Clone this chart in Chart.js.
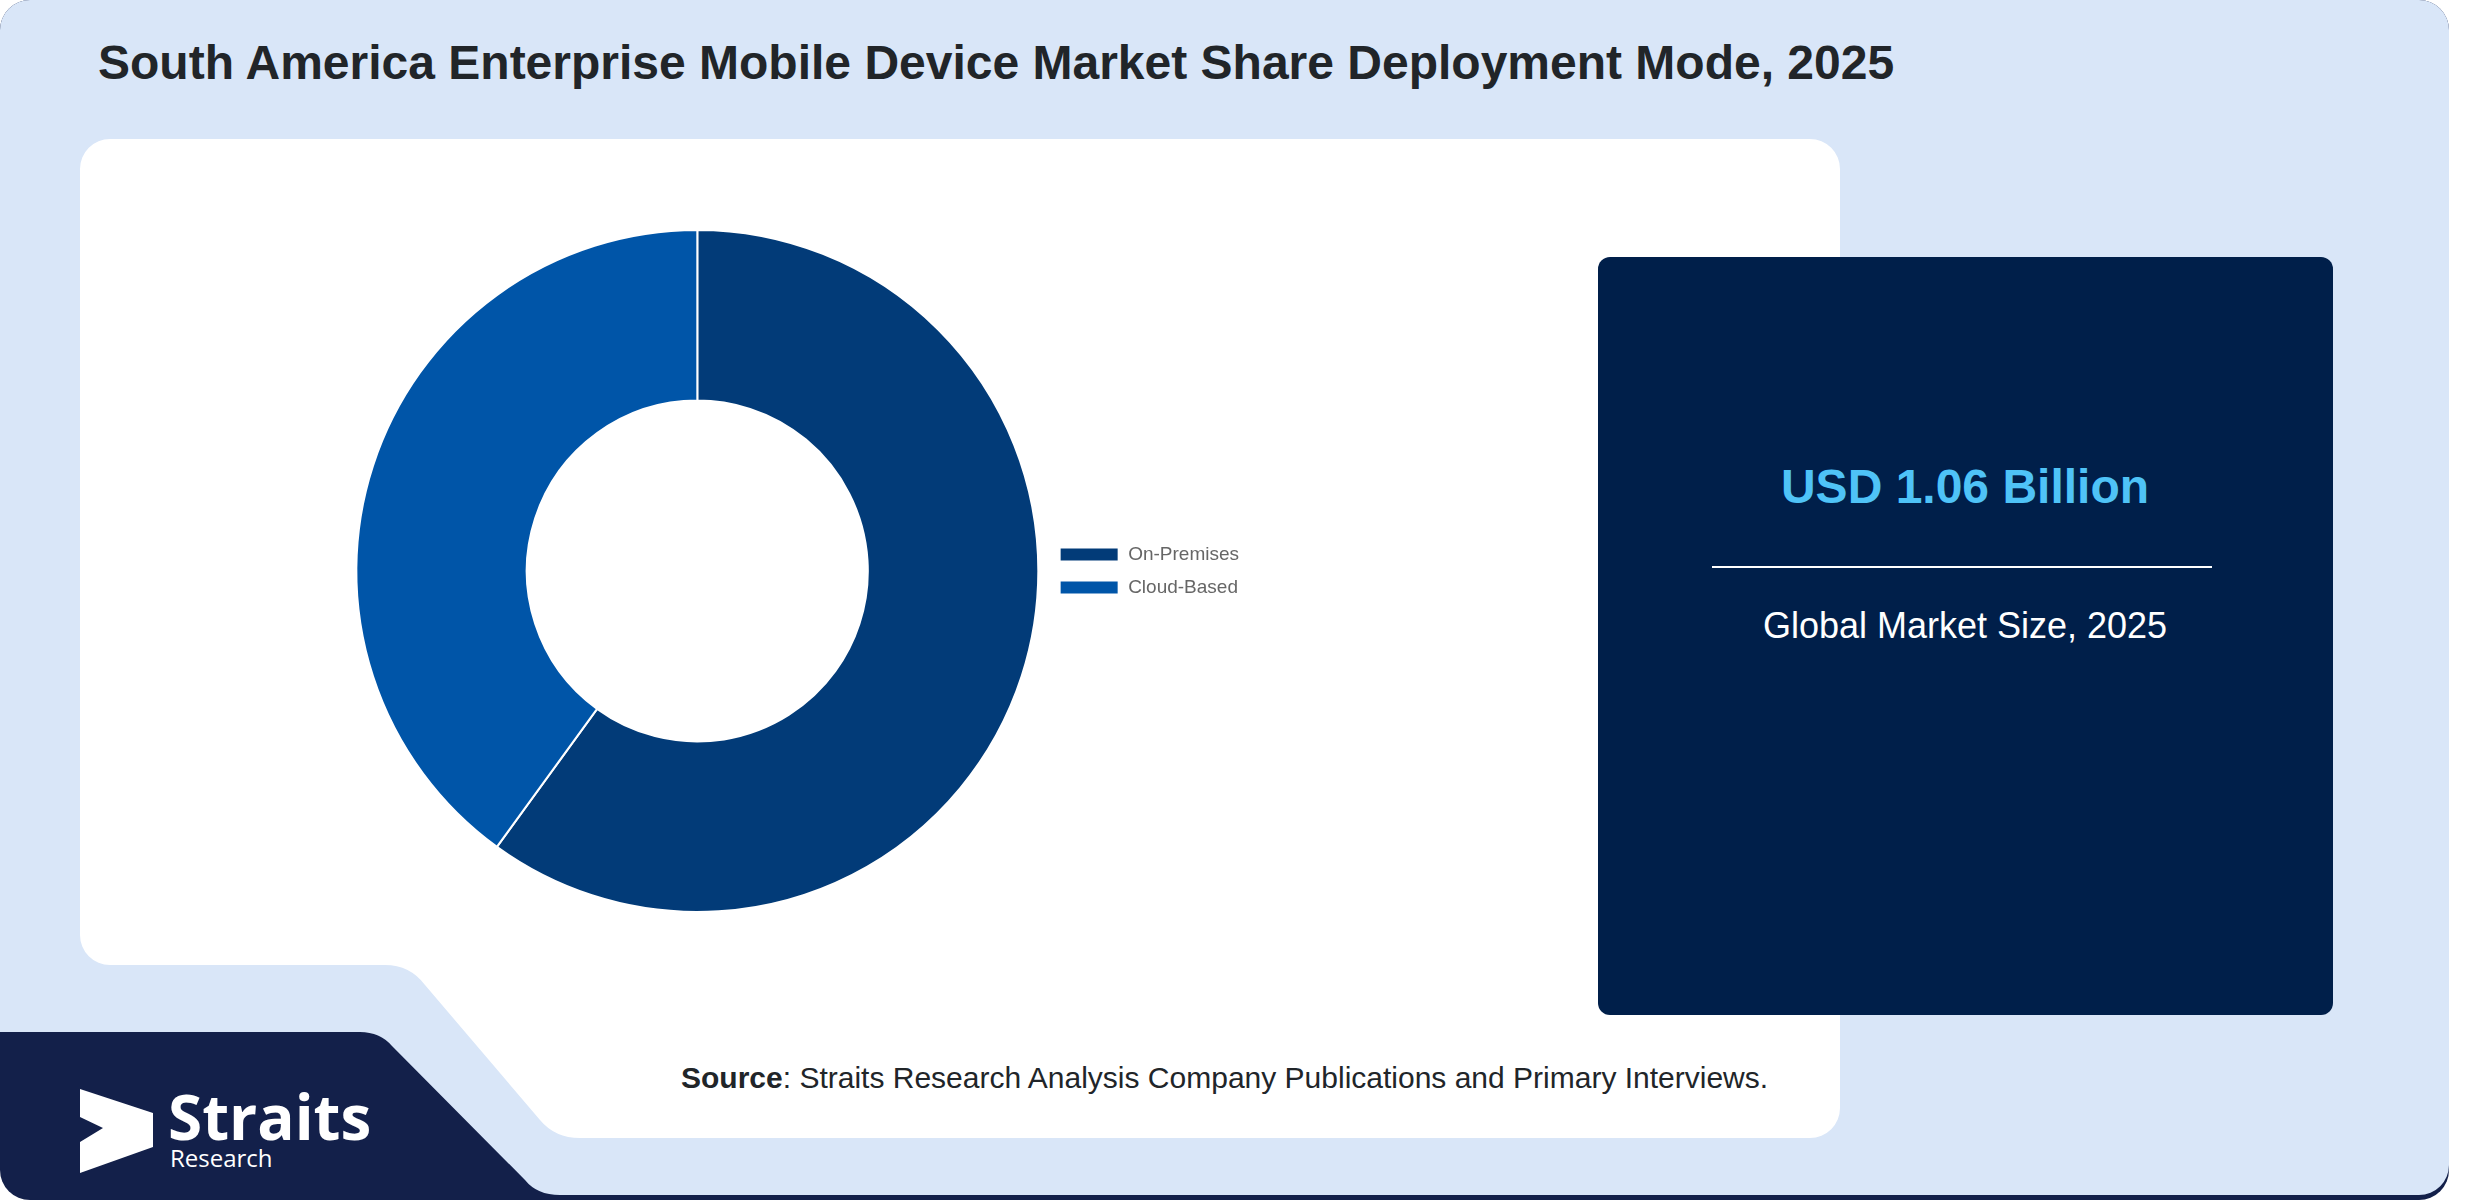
<!DOCTYPE html>
<html>
<head>
<meta charset="utf-8">
<title>South America Enterprise Mobile Device Market Share Deployment Mode, 2025</title>
<script src="https://cdn.jsdelivr.net/npm/chart.js@4.4.1/dist/chart.umd.min.js"></script>
<style>
  html, body { margin: 0; padding: 0; background: #ffffff; }
  #page { position: relative; width: 2480px; height: 1200px; overflow: hidden; }
  #deco { position: absolute; left: 0; top: 0; }
  #donut { position: absolute; top: 229px; left: 349px; }
</style>
</head>
<body>
<div id="page">
  <svg id="deco" width="2480" height="1200" xmlns="http://www.w3.org/2000/svg">
    <!-- navy base, shows at logo corner and bottom strip -->
    <path d="M30 0 H2419 A30 30 0 0 1 2449 30 V1170 A30 30 0 0 1 2419 1200 H30 A30 30 0 0 1 0 1170 V30 A30 30 0 0 1 30 0 Z" fill="#13204a"/>
    <!-- light blue card -->
    <path d="M30 0 H2419 A30 30 0 0 1 2449 30 V1165 A30 30 0 0 1 2419 1195 H560 Q537 1195 525 1180 L392 1046 Q380 1032 360 1032 H0 V30 A30 30 0 0 1 30 0 Z" fill="#d9e6f8"/>
    <!-- white chart panel -->
    <path d="M110 139 H1810 A30 30 0 0 1 1840 169 V1108 A30 30 0 0 1 1810 1138 H580 Q555 1138 540 1120 L425 985 Q410 965 385 965 H110 A30 30 0 0 1 80 935 V169 A30 30 0 0 1 110 139 Z" fill="#ffffff"/>
    <!-- market size card -->
    <rect x="1598" y="257" width="735" height="758" rx="12" ry="12" fill="#001f4a"/>

    <text x="98" y="79" font-family="Liberation Sans, Arial, sans-serif" font-weight="bold" font-size="48" fill="#212529">South America Enterprise Mobile Device Market Share Deployment Mode, 2025</text>

    <text x="1965" y="503" text-anchor="middle" font-family="Liberation Sans, Arial, sans-serif" font-weight="bold" font-size="48" fill="#4fc3f7">USD 1.06 Billion</text>
    <line x1="1712" y1="567" x2="2212" y2="567" stroke="#ffffff" stroke-width="2"/>
    <text x="1965" y="638" text-anchor="middle" font-family="Liberation Sans, Arial, sans-serif" font-size="36" fill="#ffffff">Global Market Size, 2025</text>

    <text x="681" y="1088" font-family="Liberation Sans, Arial, sans-serif" font-size="30" fill="#212529"><tspan font-weight="bold">Source</tspan>: Straits Research Analysis Company Publications and Primary Interviews.</text>

    <!-- logo -->
    <polygon points="80,1089 153,1113 153,1147 80,1173 80,1142 103,1128 80,1117" fill="#ffffff"/>
    <text x="168" y="1140" font-family="Open Sans, Noto Sans, sans-serif" font-weight="bold" font-size="62" fill="#ffffff">Straits</text>
    <text x="170" y="1167" font-family="Open Sans, Noto Sans, sans-serif" font-size="24" fill="#ffffff">Research</text>
  </svg>
  <canvas id="donut"></canvas>
</div>
<script>
  const deploymentModes = ["On-Premises", "Cloud-Based"];
  const shareValues = [60, 40];
  const sliceColors = ["#023b78", "#0055a8"];

  const LEGEND_FONT = 19;
  const LEGEND_PAD = 14;
  const LEGEND_BOX_W = 59;
  const LEGEND_BOX_H = 14;
  const CHART_AREA_W = 704;
  const CHART_AREA_H = 684;

  Chart.defaults.font.family = "'Liberation Sans', Arial, sans-serif";

  // size the canvas so the legend sits just right of the ring
  const canvas = document.getElementById("donut");
  const measure = document.createElement("canvas").getContext("2d");
  measure.font = LEGEND_FONT + "px 'Liberation Sans', Arial, sans-serif";
  const widest = Math.max(...deploymentModes.map((t) => measure.measureText(t).width));
  const legendW = LEGEND_PAD + LEGEND_BOX_W + LEGEND_FONT / 2 + widest + 2;
  const canvasW = Math.ceil(CHART_AREA_W + legendW);
  canvas.width = canvasW;
  canvas.height = CHART_AREA_H;
  canvas.style.width = canvasW + "px";
  canvas.style.height = CHART_AREA_H + "px";

  new Chart(canvas, {
    type: "doughnut",
    data: {
      labels: deploymentModes,
      datasets: [
        {
          data: shareValues,
          backgroundColor: sliceColors,
          borderColor: "#ffffff",
          borderWidth: 2,
        },
      ],
    },
    options: {
      responsive: false,
      maintainAspectRatio: false,
      devicePixelRatio: 1,
      animation: false,
      cutout: "50%",
      layout: { padding: 0 },
      plugins: {
        legend: {
          position: "right",
          labels: {
            boxWidth: LEGEND_BOX_W,
            boxHeight: LEGEND_BOX_H,
            padding: LEGEND_PAD,
            color: "#666666",
            font: { size: LEGEND_FONT },
          },
        },
        tooltip: { enabled: false },
      },
    },
  });
</script>
</body>
</html>
